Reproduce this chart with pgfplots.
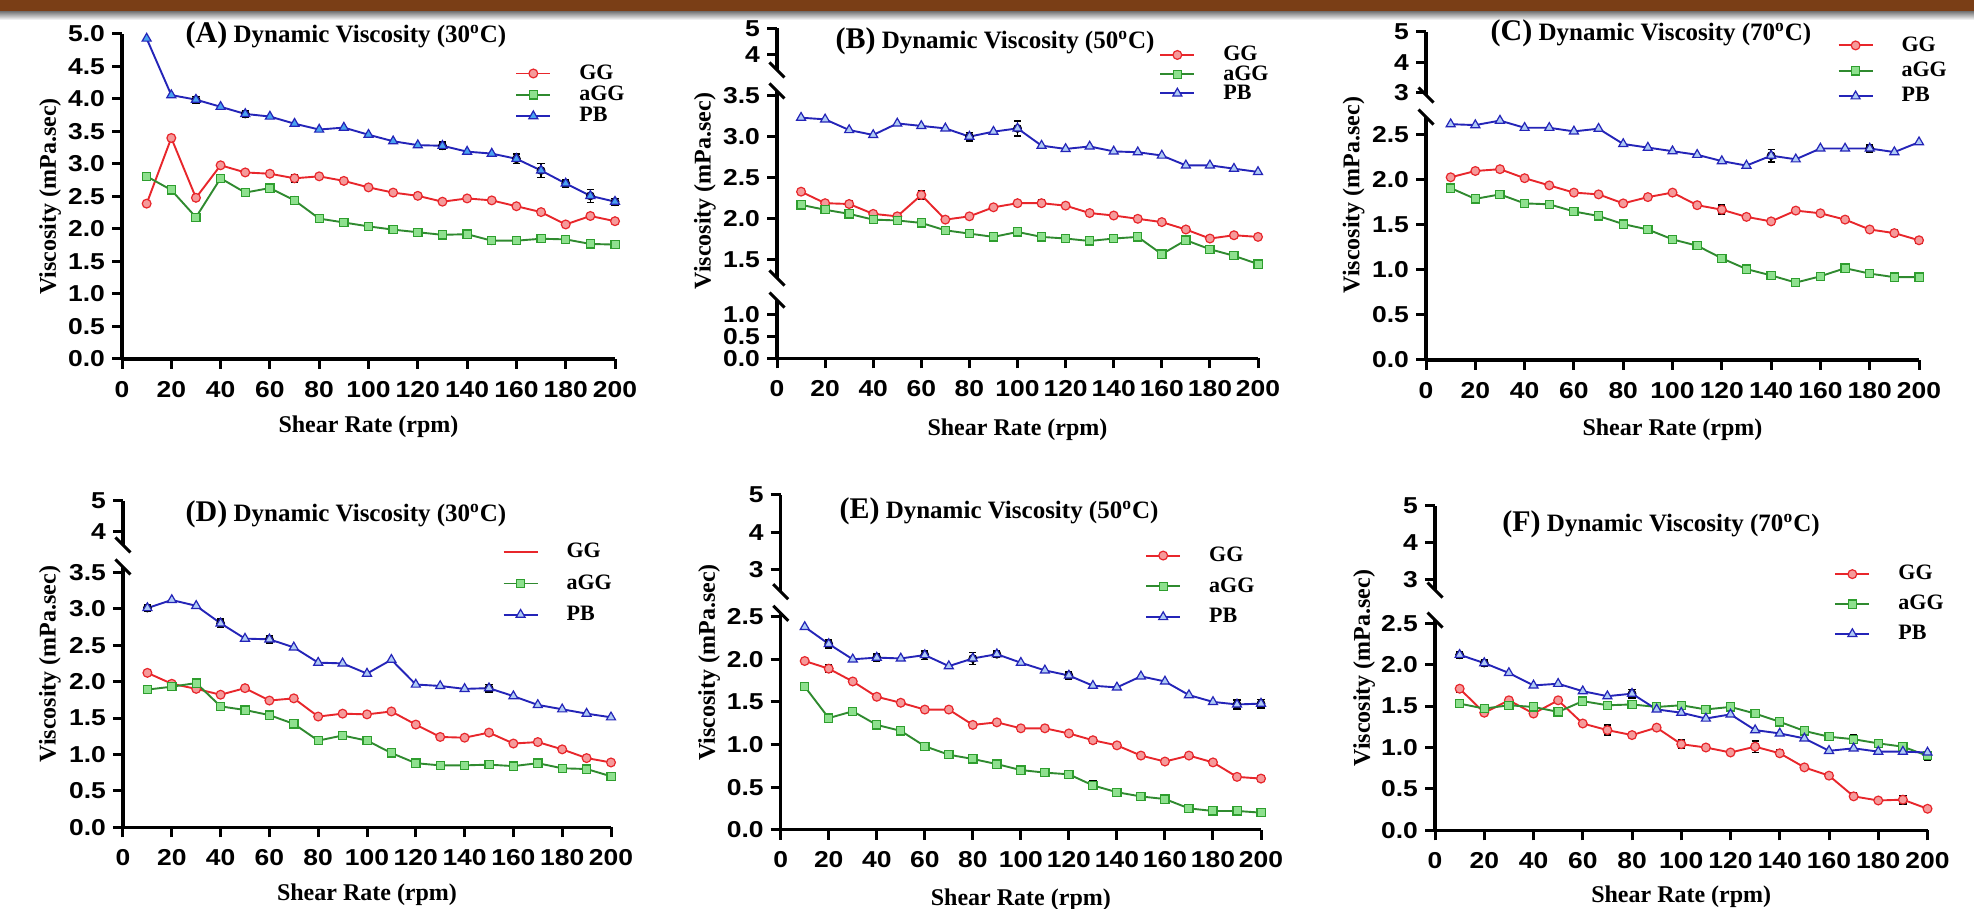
\documentclass[border=0pt]{standalone}
\usepackage{fontspec}
\usepackage{pgfplots}
\usepackage{pgfplotstable}
\pgfplotsset{compat=1.18}
\newfontfamily\tickfont[FakeStretch=1.15]{Liberation Sans}
\newfontfamily\labfont{Liberation Serif}
\newcommand\tickfs{\tickfont\bfseries\fontsize{11.5}{13}\selectfont}
\newcommand\labfs{\labfont\bfseries\fontsize{12}{14}\selectfont}
\newcommand\titfs{\labfont\bfseries\fontsize{12.5}{14}\selectfont}
\newcommand\legfs{\labfont\bfseries\fontsize{11}{13}\selectfont}
\newcommand\panl{\fontsize{15}{17}\selectfont}
\definecolor{ggline}{HTML}{E8262B}
\definecolor{ggfill}{HTML}{F59A9A}
\definecolor{aggline}{HTML}{2F8A2F}
\definecolor{aggmark}{HTML}{2E9E2E}
\definecolor{aggfill}{HTML}{8EE08E}
\definecolor{pbline}{HTML}{2424B8}
\definecolor{pbfillA}{HTML}{4AA3F0}
\definecolor{pbfill}{HTML}{AFCBF5}
\definecolor{topbrown}{HTML}{7A3E16}
\tikzset{brk/.style={line width=1.5pt, black}}
\pgfplotsset{
 myaxis/.style={scale only axis, clip=false, xmin=0, xmax=200,
   axis line style={line width=1.6pt, black, -},
   major tick style={line width=1.5pt, black}, major tick length=5pt, tick align=outside,
   tick label style={font=\tickfs}, /pgf/number format/assume math mode=true},
 seg/.style={myaxis, axis x line=none, axis y line*=left},
 base/.style={myaxis, axis x line*=bottom, axis y line*=left, xtick={0,20,...,200},
   xticklabel style={yshift=-2.5pt}},
 gg/.style={color=ggline, line width=0.95pt, mark=*, mark size=2.2pt,
   mark options={fill=ggfill, draw=ggline, line width=0.6pt}},
 agg/.style={color=aggline, line width=0.95pt, mark=square*, mark size=2.05pt,
   mark options={fill=aggfill, draw=aggmark, line width=0.6pt}},
 pb/.style={color=pbline, line width=0.95pt, mark=triangle*, mark size=2.6pt,
   mark options={fill=pbfill, draw=pbline, line width=0.6pt}},
 pbA/.style={color=pbline, line width=0.95pt, mark=triangle*, mark size=2.6pt,
   mark options={fill=pbfillA, draw=pbline, line width=0.6pt}},
 errb/.style={only marks, mark=none, forget plot, error bars/.cd, y dir=both, y explicit,
   error bar style={draw=black, line width=0.8pt},
   error mark options={rotate=90, mark size=1.8pt, line width=0.8pt, draw=black}},
 leg/.style={legend cell align=left, legend style={draw=none, fill=none, font=\legfs,
   inner sep=0pt, column sep=12pt, anchor=west}},
 xl/.style={xlabel={Shear Rate (rpm)}, xlabel style={at={(axis description cs:0.5,0)}, anchor=center, yshift=#1, font=\labfs}},
 yl/.style 2 args={ylabel={Viscosity (mPa.sec)}, ylabel style={at={(axis description cs:#1,#2)}, anchor=center, font=\labfs}},
}
\pgfplotstableread{
x gg agg pb
10 2.39 2.81 4.93
20 3.40 2.60 4.06
30 2.48 2.18 3.99
40 2.98 2.78 3.88
50 2.87 2.56 3.77
60 2.85 2.63 3.73
70 2.78 2.44 3.62
80 2.81 2.16 3.53
90 2.74 2.10 3.56
100 2.64 2.04 3.45
110 2.56 1.99 3.35
120 2.51 1.95 3.29
130 2.42 1.91 3.28
140 2.47 1.92 3.19
150 2.44 1.82 3.16
160 2.35 1.82 3.08
170 2.26 1.85 2.90
180 2.07 1.84 2.70
190 2.20 1.77 2.51
200 2.12 1.76 2.42
}\dataA
\pgfplotstableread{
x gg agg pb
10 2.33 2.17 3.23
20 2.19 2.11 3.21
30 2.18 2.06 3.08
40 2.06 1.99 3.02
50 2.03 1.98 3.16
60 2.29 1.95 3.13
70 1.99 1.86 3.10
80 2.03 1.82 3.00
90 2.14 1.78 3.06
100 2.19 1.84 3.10
110 2.19 1.78 2.89
120 2.16 1.76 2.85
130 2.07 1.73 2.88
140 2.04 1.76 2.82
150 2.00 1.78 2.81
160 1.96 1.57 2.77
170 1.87 1.74 2.65
180 1.76 1.63 2.65
190 1.80 1.55 2.61
200 1.78 1.45 2.57
}\dataB
\pgfplotstableread{
x gg agg pb
10 2.03 1.91 2.62
20 2.10 1.79 2.61
30 2.12 1.84 2.66
40 2.02 1.74 2.58
50 1.94 1.73 2.58
60 1.86 1.65 2.54
70 1.84 1.60 2.57
80 1.74 1.51 2.40
90 1.81 1.45 2.36
100 1.86 1.34 2.32
110 1.72 1.27 2.28
120 1.67 1.13 2.21
130 1.59 1.01 2.16
140 1.54 0.94 2.27
150 1.66 0.86 2.23
160 1.63 0.93 2.35
170 1.56 1.02 2.35
180 1.45 0.96 2.35
190 1.41 0.92 2.31
200 1.33 0.92 2.42
}\dataC
\pgfplotstableread{
x gg agg pb
10 2.12 1.89 3.01
20 1.97 1.93 3.12
30 1.90 1.98 3.04
40 1.82 1.66 2.80
50 1.91 1.61 2.59
60 1.74 1.54 2.58
70 1.77 1.42 2.47
80 1.52 1.19 2.26
90 1.56 1.26 2.25
100 1.55 1.19 2.11
110 1.59 1.02 2.30
120 1.41 0.88 1.96
130 1.24 0.85 1.94
140 1.23 0.85 1.90
150 1.30 0.86 1.91
160 1.15 0.84 1.80
170 1.17 0.88 1.68
180 1.07 0.81 1.62
190 0.95 0.80 1.56
200 0.89 0.70 1.51
}\dataD
\pgfplotstableread{
x gg agg pb
10 1.98 1.68 2.38
20 1.89 1.31 2.18
30 1.74 1.39 2.00
40 1.56 1.23 2.02
50 1.49 1.16 2.01
60 1.41 0.98 2.05
70 1.41 0.88 1.92
80 1.23 0.83 2.01
90 1.26 0.77 2.06
100 1.19 0.70 1.96
110 1.19 0.67 1.87
120 1.13 0.65 1.81
130 1.05 0.52 1.69
140 0.99 0.44 1.67
150 0.87 0.39 1.80
160 0.80 0.36 1.74
170 0.87 0.25 1.58
180 0.79 0.22 1.50
190 0.62 0.22 1.47
200 0.60 0.20 1.48
}\dataE
\pgfplotstableread{
x gg agg pb
10 1.71 1.53 2.12
20 1.42 1.47 2.02
30 1.57 1.51 1.90
40 1.41 1.49 1.75
50 1.57 1.43 1.77
60 1.29 1.56 1.68
70 1.21 1.51 1.62
80 1.15 1.52 1.65
90 1.24 1.49 1.46
100 1.04 1.51 1.42
110 1.00 1.46 1.35
120 0.94 1.49 1.40
130 1.01 1.41 1.21
140 0.93 1.31 1.17
150 0.76 1.20 1.11
160 0.66 1.13 0.96
170 0.41 1.10 0.99
180 0.36 1.05 0.95
190 0.37 1.01 0.95
200 0.26 0.90 0.94
}\dataF
\pgfplotstableread{
x y e
30 3.99 0.05
50 3.77 0.05
130 3.28 0.06
160 3.08 0.07
170 2.90 0.11
180 2.70 0.05
190 2.51 0.10
200 2.42 0.05
70 2.78 0.06
70 2.44 0.06
150 1.82 0.05
}\errA
\pgfplotstableread{
x y e
80 3.00 0.05
100 3.10 0.09
30 2.18 0.04
60 2.29 0.05
110 2.19 0.04
170 1.74 0.05
}\errB
\pgfplotstableread{
x y e
140 2.27 0.07
180 2.35 0.04
120 1.67 0.05
190 1.41 0.04
200 1.33 0.03
}\errC
\pgfplotstableread{
x y e
10 3.01 0.05
40 2.80 0.06
60 2.58 0.05
150 1.91 0.05
}\errD
\pgfplotstableread{
x y e
20 2.18 0.05
40 2.02 0.04
60 2.05 0.05
80 2.01 0.07
90 2.06 0.04
120 1.81 0.04
190 1.47 0.05
200 1.48 0.05
20 1.89 0.04
130 1.05 0.03
200 0.60 0.03
130 0.52 0.05
}\errE
\pgfplotstableread{
x y e
10 2.12 0.04
20 2.02 0.04
80 1.65 0.05
10 1.71 0.04
70 1.21 0.06
100 1.04 0.05
130 1.01 0.07
140 0.93 0.04
170 0.41 0.04
190 0.37 0.05
170 1.10 0.05
200 0.90 0.05
}\errF
\begin{document}
\begin{tikzpicture}
\useasboundingbox (0,0) rectangle (987pt,454.5pt);
\fill[white] (0,0) rectangle (987pt,454.5pt);
\fill[topbrown] (0,448.5pt) rectangle (987pt,454.5pt);
\shade[top color=black!50, bottom color=white] (0,444.5pt) rectangle (987pt,448.5pt);

% ---------------- Panel A
\begin{axis}[base, at={(61pt,275pt)}, anchor=south west, width=246.5pt, height=162.5pt,
  ymin=0, ymax=5, ytick={0,0.5,1,1.5,2,2.5,3,3.5,4,4.5,5},
  yticklabels={0.0,0.5,1.0,1.5,2.0,2.5,3.0,3.5,4.0,4.5,5.0},
  xl=-34pt, yl={-0.146}{0.5}, leg, legend style={at={(0.797,0.813)}, row sep=-2.1pt}]
\addplot[errb] table[x=x, y=y, y error=e] {\errA};
\addplot[gg] table[x=x, y=gg] {\dataA}; \addlegendentry{GG}
\addplot[agg] table[x=x, y=agg] {\dataA}; \addlegendentry{aGG}
\addplot[pbA] table[x=x, y=pb] {\dataA}; \addlegendentry{PB}
\end{axis}
\node[font=\titfs] at (173pt,437pt) {{\panl(A)} Dynamic Viscosity (30\textsuperscript{o}C)};

% ---------------- Panel B
\begin{axis}[seg, at={(388.5pt,419.5pt)}, anchor=south west, width=240.5pt, height=20.85pt,
  ymin=3.4, ymax=5, ytick={4,5}, yticklabels={4,5}]
\draw[brk] (rel axis cs:0,0) ++(-3.75pt,3.75pt) -- ++(7.5pt,-7.5pt);
\end{axis}
\begin{axis}[seg, at={(388.5pt,315.5pt)}, anchor=south west, width=240.5pt, height=93.5pt,
  ymin=1.28, ymax=3.555, ytick={1.5,2,2.5,3,3.5}, yticklabels={1.5,2.0,2.5,3.0,3.5},
  yl={-0.150}{0.465}, leg, legend style={at={(0.794,1.09)}, row sep=-3.15pt}]
\draw[brk] (rel axis cs:0,1) ++(-3.75pt,3.75pt) -- ++(7.5pt,-7.5pt);
\draw[brk] (rel axis cs:0,0) ++(-3.75pt,3.75pt) -- ++(7.5pt,-7.5pt);
\addplot[errb] table[x=x, y=y, y error=e] {\errB};
\addplot[gg] table[x=x, y=gg] {\dataB}; \addlegendentry{GG}
\addplot[agg] table[x=x, y=agg] {\dataB}; \addlegendentry{aGG}
\addplot[pb] table[x=x, y=pb] {\dataB}; \addlegendentry{PB}
\end{axis}
\begin{axis}[base, at={(388.5pt,275.35pt)}, anchor=south west, width=240.5pt, height=29.15pt,
  ymin=0, ymax=1.33, ytick={0,0.5,1}, yticklabels={0.0,0.5,1.0}, xl=-35.8pt]
\draw[brk] (rel axis cs:0,1) ++(-3.75pt,3.75pt) -- ++(7.5pt,-7.5pt);
\end{axis}
\node[font=\titfs] at (497.5pt,434pt) {{\panl(B)} Dynamic Viscosity (50\textsuperscript{o}C)};

% ---------------- Panel C
\begin{axis}[seg, at={(713pt,407pt)}, anchor=south west, width=246.5pt, height=31.5pt,
  ymin=2.93, ymax=5, ytick={3,4,5}, yticklabels={3,4,5}]
\draw[brk] (rel axis cs:0,0) ++(-3.75pt,3.75pt) -- ++(7.5pt,-7.5pt);
\end{axis}
\begin{axis}[base, at={(713pt,274.5pt)}, anchor=south west, width=246.5pt, height=121.5pt,
  ymin=0, ymax=2.7, ytick={0,0.5,1,1.5,2,2.5}, yticklabels={0.0,0.5,1.0,1.5,2.0,2.5},
  xl=-35pt, yl={-0.147}{0.679}, leg, legend style={at={(0.834,1.19)}, row sep=-0.05pt}]
\draw[brk] (rel axis cs:0,1) ++(-3.75pt,3.75pt) -- ++(7.5pt,-7.5pt);
\addplot[errb] table[x=x, y=y, y error=e] {\errC};
\addplot[gg] table[x=x, y=gg] {\dataC}; \addlegendentry{GG}
\addplot[agg] table[x=x, y=agg] {\dataC}; \addlegendentry{aGG}
\addplot[pb] table[x=x, y=pb] {\dataC}; \addlegendentry{PB}
\end{axis}
\node[font=\titfs] at (825.5pt,437.75pt) {{\panl(C)} Dynamic Viscosity (70\textsuperscript{o}C)};

% ---------------- Panel D
\begin{axis}[seg, at={(61.5pt,182pt)}, anchor=south west, width=244pt, height=22pt,
  ymin=3.567, ymax=5, ytick={4,5}, yticklabels={4,5}]
\draw[brk] (rel axis cs:0,0) ++(-3.75pt,3.75pt) -- ++(7.5pt,-7.5pt);
\end{axis}
\begin{axis}[base, at={(61.5pt,40.85pt)}, anchor=south west, width=244pt, height=130.15pt,
  ymin=0, ymax=3.573, ytick={0,0.5,1,1.5,2,2.5,3,3.5}, yticklabels={0.0,0.5,1.0,1.5,2.0,2.5,3.0,3.5},
  xl=-33.8pt, yl={-0.150}{0.627}, leg, legend style={at={(0.777,0.937)}, row sep=2.85pt}]
\draw[brk] (rel axis cs:0,1) ++(-3.75pt,3.75pt) -- ++(7.5pt,-7.5pt);
\addplot[errb] table[x=x, y=y, y error=e] {\errD};
\addplot[gg, forget plot] table[x=x, y=gg] {\dataD};
\addlegendimage{color=ggline, line width=0.95pt}\addlegendentry{GG}
\addplot[agg] table[x=x, y=agg] {\dataD}; \addlegendentry{aGG}
\addplot[pb] table[x=x, y=pb] {\dataD}; \addlegendentry{PB}
\end{axis}
\node[font=\titfs] at (173pt,197.5pt) {{\panl(D)} Dynamic Viscosity (30\textsuperscript{o}C)};

% ---------------- Panel E
\begin{axis}[seg, at={(390.35pt,158.65pt)}, anchor=south west, width=240.15pt, height=48.35pt,
  ymin=2.42, ymax=5, ytick={3,4,5}, yticklabels={3,4,5}]
\draw[brk] (rel axis cs:0,0) ++(-3.75pt,3.75pt) -- ++(7.5pt,-7.5pt);
\end{axis}
\begin{axis}[base, at={(390.35pt,39.65pt)}, anchor=south west, width=240.15pt, height=108.2pt,
  ymin=0, ymax=2.54, ytick={0,0.5,1,1.5,2,2.5}, yticklabels={0.0,0.5,1.0,1.5,2.0,2.5},
  xl=-35.2pt, yl={-0.149}{0.773}, leg, legend style={at={(0.758,1.125)}, row sep=2.6pt}]
\draw[brk] (rel axis cs:0,1) ++(-3.75pt,3.75pt) -- ++(7.5pt,-7.5pt);
\addplot[errb] table[x=x, y=y, y error=e] {\errE};
\addplot[gg] table[x=x, y=gg] {\dataE}; \addlegendentry{GG}
\addplot[agg] table[x=x, y=agg] {\dataE}; \addlegendentry{aGG}
\addplot[pb] table[x=x, y=pb] {\dataE}; \addlegendentry{PB}
\end{axis}
\node[font=\titfs] at (499.5pt,199pt) {{\panl(E)} Dynamic Viscosity (50\textsuperscript{o}C)};

% ---------------- Panel F
\begin{axis}[seg, at={(717.5pt,159.5pt)}, anchor=south west, width=246.25pt, height=42pt,
  ymin=2.71, ymax=5, ytick={3,4,5}, yticklabels={3,4,5}]
\draw[brk] (rel axis cs:0,0) ++(-3.75pt,3.75pt) -- ++(7.5pt,-7.5pt);
\end{axis}
\begin{axis}[base, at={(717.5pt,39.35pt)}, anchor=south west, width=246.25pt, height=105.15pt,
  ymin=0, ymax=2.54, ytick={0,0.5,1,1.5,2,2.5}, yticklabels={0.0,0.5,1.0,1.5,2.0,2.5},
  xl=-33.2pt, yl={-0.144}{0.772}, leg, legend style={at={(0.810,1.076)}, row sep=2.2pt}]
\draw[brk] (rel axis cs:0,1) ++(-3.75pt,3.75pt) -- ++(7.5pt,-7.5pt);
\addplot[errb] table[x=x, y=y, y error=e] {\errF};
\addplot[gg] table[x=x, y=gg] {\dataF}; \addlegendentry{GG}
\addplot[agg] table[x=x, y=agg] {\dataF}; \addlegendentry{aGG}
\addplot[pb] table[x=x, y=pb] {\dataF}; \addlegendentry{PB}
\end{axis}
\node[font=\titfs] at (830.5pt,192.5pt) {{\panl(F)} Dynamic Viscosity (70\textsuperscript{o}C)};
\end{tikzpicture}
\end{document}
